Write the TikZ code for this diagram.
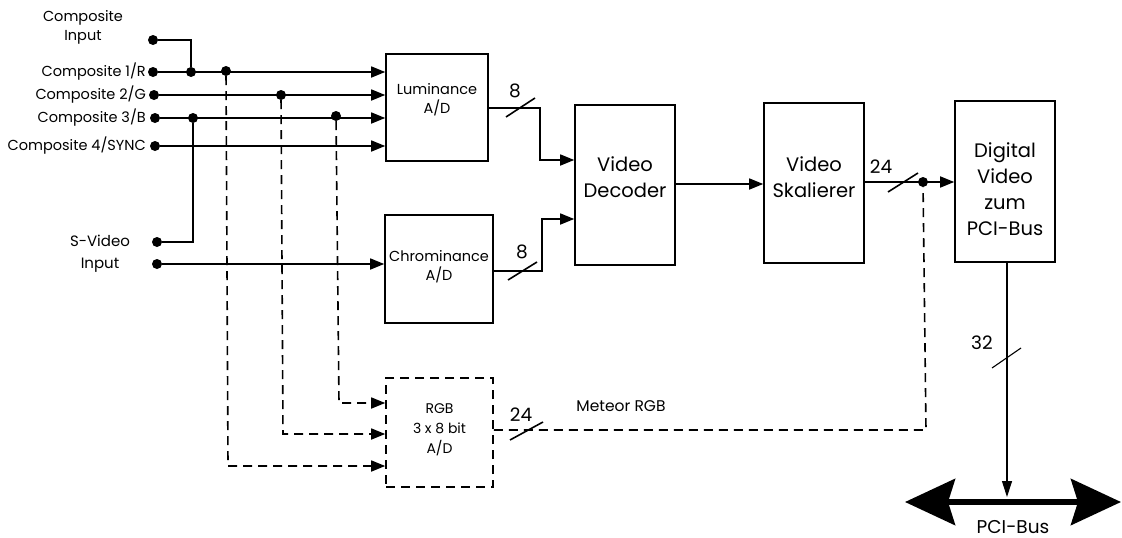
\documentclass[tikz,border=0pt]{standalone}
\usepackage{fontspec}
\setmainfont{Poppins}
\usetikzlibrary{arrows.meta}
\begin{document}
\begin{tikzpicture}[x=1pt,y=-1pt,
  wire/.style={line width=1.6pt},
  arr/.style={wire,-{Triangle[length=14pt,width=11pt]}},
  dwire/.style={wire,dash pattern=on 9pt off 6pt},
  darr/.style={dwire,-{Triangle[length=14pt,width=11pt]}},
  box/.style={draw,line width=1.6pt,inner sep=0pt},
  dbox/.style={box,dash pattern=on 9pt off 6pt},
  sm/.style={inner sep=0pt,font=\fontsize{14.5}{19}\selectfont,align=center},
  md/.style={inner sep=0pt,font=\fontsize{15.5}{19}\selectfont,align=center},
  num/.style={inner sep=0pt,font=\fontsize{18.5}{20}\selectfont},
  bg/.style={inner sep=0pt,font=\fontsize{19.5}{26}\selectfont,align=center},
  dot/.style={circle,fill,inner sep=0pt,minimum size=10pt}
]
\useasboundingbox (0,0) rectangle (1122,538);

% input labels
\node[sm] (tci) at (83,27) {Composite\\Input};
\node[sm,anchor=east] (t1) at (146,72) {Composite 1/R};
\node[sm,anchor=east] (t2) at (146,95) {Composite 2/G};
\node[sm,anchor=east] (t3) at (146,118) {Composite 3/B};
\node[sm,anchor=east] (t4) at (146,146) {Composite 4/SYNC};
\node[sm,font=\fontsize{15}{22}\selectfont] (tsv) at (100,254) {S-Video\\Input};

% input dots
\node[dot] (ci) at (153,40) {};
\node[dot] (i1) at (153,72) {};
\node[dot] (i2) at (154,95) {};
\node[dot] (i3) at (155,118) {};
\node[dot] (i4) at (155,146) {};
\node[dot] (sv1) at (157,242) {};
\node[dot] (sv2) at (157,264) {};

% junction dots
\node[dot] (j1a) at (191,72) {};
\node[dot] (j1b) at (226,71) {};
\node[dot] (j2) at (281,95) {};
\node[dot] (j3a) at (193,118) {};
\node[dot] (j3b) at (336,116) {};

% boxes
\node[box,minimum width=102pt,minimum height=107pt] (lum) at (437,107.5) {};
\node[sm] (lumt) at (437,100) {Luminance\\A/D};
\node[box,minimum width=108pt,minimum height=108pt] (chr) at (439,269) {};
\node[sm] (chrt) at (439,267) {Chrominance\\A/D};
\node[dbox,minimum width=107pt,minimum height=109pt] (rgb) at (439.5,432.5) {};
\node[sm,font=\fontsize{14}{20}\selectfont] (rgbt) at (439.5,430) {RGB\\3 x 8 bit\\A/D};
\node[box,minimum width=100pt,minimum height=160pt] (dec) at (625,185) {};
\node[bg] (dect) at (625,177) {Video\\Decoder};
\node[box,minimum width=100pt,minimum height=160pt] (ska) at (814,183) {};
\node[bg] (skat) at (814,177) {Video\\Skalierer};
\node[box,minimum width=100pt,minimum height=161pt] (dig) at (1005,181.5) {};
\node[bg] (digt) at (1005,189) {Digital\\Video\\zum\\PCI-Bus};

% composite input wiring
\draw[wire] (ci) -| (j1a);
\draw[arr] (i1) -- (lum.west |- i1);
\draw[arr] (i2) -- (lum.west |- i2);
\draw[arr] (i3) -- (lum.west |- i3);
\draw[arr] (i4) -- (lum.west |- i4);
\draw[wire] (j3a) |- (sv1);
\draw[arr] (sv2) -- (chr.west |- sv2);

% dashed RGB feeds
\coordinate (r1) at (228,466);
\coordinate (r2) at (283,434);
\coordinate (r3) at (339,403);
\draw[darr] (j1b) -- (r1) -- (rgb.west |- r1);
\draw[darr] (j2) -- (r2) -- (rgb.west |- r2);
\draw[darr] (j3b) -- (r3) -- (rgb.west |- r3);

% luminance / chrominance to decoder
\coordinate (l1) at (540,108);
\coordinate (l2) at (540,160);
\draw[arr] (lum.east |- l1) -- (l1) -- (l2) -- (dec.west |- l2);
\coordinate (c1) at (542,271);
\coordinate (c2) at (542,219);
\draw[arr] (chr.east |- c1) -- (c1) -- (c2) -- (dec.west |- c2);
\draw[wire] (506,117) -- (535,98);
\node[num] (n8a) at (515,91) {8};
\draw[wire] (508,280) -- (537,262);
\node[num] (n8b) at (522,252) {8};

% decoder -> skalierer
\draw[arr] (dec.east |- 0,184) -- (ska.west |- 0,184);

% skalierer -> digital
\node[dot] (jd) at (923,182) {};
\draw[arr] (ska.east |- jd) -- (dig.west |- jd);
\draw[wire] (888,192) -- (918,173);
\node[num] (n24a) at (881,167) {24};

% RGB -> digital (dashed)
\coordinate (rd) at (926,430);
\draw[dwire] (rgb.east |- rd) -- (rd) -- (jd);
\draw[wire] (510,440) -- (543,422);
\node[num] (n24b) at (521,415) {24};
\node[md] (met) at (621,406) {Meteor RGB};

% digital -> PCI bus
\coordinate (pl) at (905,502);
\coordinate (pr) at (1121,502);
\coordinate (pt) at (1007,497);
\draw[line width=1.1pt,-{Triangle[length=16pt,width=10pt]}] (dig.south -| pt) -- (pt);
\draw[line width=1.1pt] (992,368) -- (1021,348);
\node[num] (n32) at (982,343) {32};
\draw[line width=6pt,{Stealth[length=50pt,width=46pt,inset=7pt]}-{Stealth[length=50pt,width=46pt,inset=7pt]}] (pl) -- (pr);
\node[md,font=\fontsize{18.5}{20}\selectfont] (pci) at (1013,527) {PCI-Bus};
\end{tikzpicture}
\end{document}
